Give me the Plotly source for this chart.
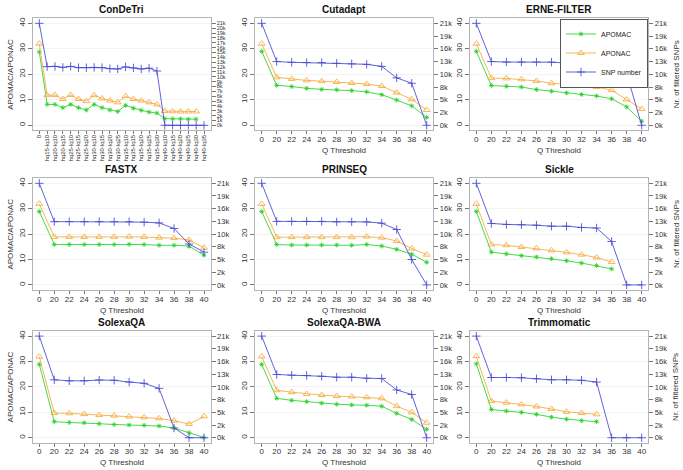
import plotly.graph_objects as go

# categories
q_cats = ["0", "20", "22", "24", "26", "28", "30", "32", "34", "36", "38", "40"]
condetri_cats = ["0", "hq15-lq10", "hq20-lq10", "hq20-lq15", "hq25-lq10", "hq25-lq15",
                 "hq25-lq20", "hq30-lq10", "hq30-lq15", "hq30-lq20", "hq30-lq25",
                 "hq35-lq10", "hq35-lq15", "hq35-lq20", "hq35-lq25", "hq35-lq30",
                 "hq40-lq10", "hq40-lq15", "hq40-lq20", "hq40-lq25", "hq40-lq30", "hq40-lq35"]

# ConDeTri
condetri_apomac = [28.8, 8.2, 8.2, 6.9, 8.2, 6.9, 6.0, 8.2, 6.9, 6.0, 5.4, 7.8, 6.7, 5.9, 5.2, 4.8,
                   2.6, 2.5, 2.5, 2.4, 2.4, None]
condetri_aponac = [32.0, 11.8, 11.9, 10.3, 11.9, 10.3, 9.5, 11.8, 10.5, 9.7, 9.0, 11.4, 10.3, 9.7, 9.0, 8.2,
                   5.6, 5.5, 5.4, 5.4, 5.4, None]
condetri_snp = [21000, 12080, 12130, 11920, 12130, 11870, 11870, 11920, 11870, 11660, 11600, 12020,
                11810, 11600, 11760, 11180, 0, 0, 0, 0, 0, 0]

# Cutadapt
cutadapt_apomac = [29.0, 15.7, 15.2, 14.5, 14.1, 13.9, 13.6, 13.1, 12.0, 9.9, 7.6, 3.1]
cutadapt_aponac = [32.0, 18.8, 18.2, 17.6, 17.3, 17.0, 16.6, 16.2, 15.4, 12.8, 10.2, 6.0]
cutadapt_snp = [21000, 13125, 12970, 12915, 12915, 12760, 12650, 12550, 12130, 9765, 8660, 0]

# ERNE-FILTER
erne_apomac = [29.0, 15.6, 15.3, 15.0, 14.0, 13.4, 12.7, 12.1, 11.5, 10.4, 7.2, 1.6]
erne_aponac = [32.0, 18.5, 18.4, 18.0, 17.4, 16.5, 15.9, 15.5, 15.0, 13.8, 10.1, 6.4]
erne_snp = [21000, 13125, 13020, 13020, 13020, 13000, 12810, 12550, 12530, 11970, 10660, 0]

# FASTX
fastx_apomac = [28.9, 15.9, 15.9, 15.9, 15.9, 15.9, 16.0, 15.9, 15.6, 15.6, 15.3, 11.7]
fastx_aponac = [31.9, 18.9, 18.9, 18.9, 18.9, 18.9, 19.0, 18.9, 18.6, 18.4, 17.7, 14.6]
fastx_snp = [21000, 13070, 13070, 13070, 13070, 13070, 13060, 12970, 12810, 11660, 8450, 6770]

# PRINSEQ
prinseq_apomac = [28.9, 15.9, 15.7, 15.7, 15.7, 15.7, 15.6, 15.9, 15.3, 14.0, 12.1, 8.9]
prinseq_aponac = [31.9, 18.8, 18.8, 18.8, 18.8, 18.8, 18.8, 19.0, 18.6, 17.3, 14.3, 11.9]
prinseq_snp = [21000, 13125, 13125, 13125, 13125, 13020, 13020, 13020, 12760, 11450, 5250, 0]

# Sickle
sickle_apomac = [28.9, 12.9, 12.2, 11.5, 11.0, 10.3, 9.5, 8.6, 7.6, 6.3, None, None]
sickle_aponac = [31.9, 15.9, 15.6, 14.9, 14.4, 13.6, 12.8, 11.9, 10.8, 9.0, None, None]
sickle_snp = [21000, 12700, 12500, 12440, 12340, 12130, 12130, 11870, 11760, 8980, 0, 0]

# SolexaQA
solexa_apomac = [28.9, 6.3, 6.0, 5.9, 5.5, 5.2, 5.0, 4.9, 4.6, 3.8, 2.0, 0.1]
solexa_aponac = [31.9, 9.7, 9.6, 9.3, 8.9, 8.7, 8.3, 8.0, 7.6, 6.7, 5.4, 8.4]
solexa_snp = [21000, 11970, 11760, 11760, 11920, 11870, 11500, 11240, 10190, 2000, 0, 0]

# SolexaQA-BWA
solexabwa_apomac = [28.9, 15.5, 14.7, 14.2, 13.6, 13.2, 12.9, 12.8, 12.4, 9.6, 7.2, 3.3]
solexabwa_aponac = [32.0, 18.7, 17.9, 17.2, 16.8, 16.4, 16.2, 15.9, 15.5, 12.4, 10.0, 5.9]
solexabwa_snp = [21000, 13070, 12920, 12860, 12700, 12500, 12500, 12290, 12230, 9870, 8930, 0]

# Trimmomatic
trimmo_apomac = [29.1, 11.1, 10.5, 10.0, 9.2, 8.1, 7.3, 6.7, 6.3, None, None, None]
trimmo_aponac = [32.1, 14.4, 13.8, 13.1, 12.3, 11.3, 10.2, 9.7, 9.2, None, None, None]
trimmo_snp = [21000, 12440, 12440, 12390, 12180, 11970, 11970, 11870, 11500, 0, 0, 0]

snp_labels = ["0k", "2k", "5k", "8k", "10k", "13k", "16k", "19k", "21k"]
snp_max = 21000

panels = [
    ("ConDeTri", condetri_cats, condetri_apomac, condetri_aponac, condetri_snp),
    ("Cutadapt", q_cats, cutadapt_apomac, cutadapt_aponac, cutadapt_snp),
    ("ERNE-FILTER", q_cats, erne_apomac, erne_aponac, erne_snp),
    ("FASTX", q_cats, fastx_apomac, fastx_aponac, fastx_snp),
    ("PRINSEQ", q_cats, prinseq_apomac, prinseq_aponac, prinseq_snp),
    ("Sickle", q_cats, sickle_apomac, sickle_aponac, sickle_snp),
    ("SolexaQA", q_cats, solexa_apomac, solexa_aponac, solexa_snp),
    ("SolexaQA-BWA", q_cats, solexabwa_apomac, solexabwa_aponac, solexabwa_snp),
    ("Trimmomatic", q_cats, trimmo_apomac, trimmo_aponac, trimmo_snp),
]

W, H = 683, 470
col_px = [(32.7, 210.6), (255.1, 433.3), (469.7, 648.3)]
row_px = [(18.2, 130.4), (178.2, 290.0), (331.0, 442.8)]

GREEN = "rgba(40,210,40,0.85)"
ORANGE = "rgba(245,170,60,0.85)"
BLUE = "rgba(70,70,210,0.85)"
FRAME = "#b4b4b4"
FONT = "Liberation Sans, Arial, sans-serif"

fig = go.Figure()
layout = {}
annotations = []

for i, (title, cats, apomac, aponac, snp) in enumerate(panels):
    r, c = divmod(i, 3)
    n = i + 1
    xa = f"x{n}"
    ya = f"y{2 * i + 1}"
    ya2 = f"y{2 * i + 2}"
    legend = title == "ERNE-FILTER"

    fig.add_trace(go.Scatter(x=cats, y=apomac, name="APOMAC", xaxis=xa, yaxis=ya,
                             mode="lines+markers", showlegend=legend,
                             line=dict(color=GREEN, width=1),
                             marker=dict(symbol="asterisk-open", size=4, color=GREEN,
                                         line=dict(color=GREEN, width=1))))
    fig.add_trace(go.Scatter(x=cats, y=aponac, name="APONAC", xaxis=xa, yaxis=ya,
                             mode="lines+markers", showlegend=legend,
                             line=dict(color=ORANGE, width=1),
                             marker=dict(symbol="triangle-up-open", size=6, color=ORANGE,
                                         line=dict(color=ORANGE, width=1))))
    fig.add_trace(go.Scatter(x=cats, y=snp, name="SNP number", xaxis=xa, yaxis=ya2,
                             mode="lines+markers", showlegend=legend,
                             line=dict(color=BLUE, width=1),
                             marker=dict(symbol="cross-thin-open", size=6, color=BLUE,
                                         line=dict(color=BLUE, width=1))))

    x0, x1 = col_px[c]
    top, bot = row_px[r]
    xdom = [x0 / W, x1 / W]
    ydom = [1 - bot / H, 1 - top / H]
    ncat = len(cats)
    pad = 0.04 * (ncat - 1)

    layout[f"xaxis{n}"] = dict(
        domain=xdom, anchor=ya, type="category", range=[-pad, ncat - 1 + pad],
        showline=True, mirror=True, linecolor=FRAME, linewidth=1,
        ticks="outside", ticklen=3, tickcolor="#777", showgrid=False, zeroline=False,
        ticklabelstandoff=-2,
        tickfont=dict(size=6 if ncat > 12 else 8, color="#333", family=FONT),
        tickangle=-90 if ncat > 12 else 0, fixedrange=True,
    )
    layout[f"yaxis{2 * i + 1}"] = dict(
        domain=ydom, anchor=xa, range=[-2, 42], tickvals=[0, 10, 20, 30, 40],
        showline=True, mirror=True, linecolor=FRAME, linewidth=1,
        ticks="outside", ticklen=4, tickcolor="#777", tickangle=-90,
        showgrid=True, gridcolor="#f3f3f3", zeroline=False,
        tickfont=dict(size=8, color="#333", family=FONT),
    )
    if ncat > 12:
        tv = [k * 1000 for k in range(22)]
        tt = [f"{k}k" for k in range(22)]
        tfs = 5.5
    else:
        tv = [k * snp_max / 8 for k in range(9)]
        tt = snp_labels
        tfs = 7.5
    layout[f"yaxis{2 * i + 2}"] = dict(
        domain=ydom, anchor=xa, overlaying=ya, side="right",
        range=[-2 * snp_max / 40, 42 * snp_max / 40], tickvals=tv, ticktext=tt,
        showline=False, ticks="outside", ticklen=4, tickcolor="#777",
        showgrid=False, zeroline=False,
        tickfont=dict(size=tfs, color="#333", family=FONT),
    )

    xc = (x0 + x1) / 2 / W
    annotations.append(dict(text=f"<b>{title}</b>", x=xc, y=1 - (top - 9) / H,
                            xref="paper", yref="paper", showarrow=False,
                            xanchor="center", yanchor="middle",
                            font=dict(size=10, color="#111", family=FONT)))
    if ncat == 12:
        annotations.append(dict(text="Q Threshold", x=xc, y=1 - (bot + 20) / H,
                                xref="paper", yref="paper", showarrow=False,
                                xanchor="center", yanchor="middle",
                                font=dict(size=8, color="#333", family=FONT)))
    yc = 1 - (top + bot) / 2 / H
    if c == 0:
        annotations.append(dict(text="APOMAC/APONAC", x=10.5 / W, y=yc, textangle=-90,
                                xref="paper", yref="paper", showarrow=False,
                                xanchor="center", yanchor="middle",
                                font=dict(size=8, color="#333", family=FONT)))
    if c == 2:
        annotations.append(dict(text="Nr. of filtered SNPs", x=676 / W, y=yc, textangle=-90,
                                xref="paper", yref="paper", showarrow=False,
                                xanchor="center", yanchor="middle",
                                font=dict(size=8, color="#333", family=FONT)))

fig.update_layout(
    width=W, height=H, margin=dict(l=0, r=0, t=0, b=0),
    paper_bgcolor="white", plot_bgcolor="white",
    annotations=annotations,
    legend=dict(x=648 / W, y=1 - 18.5 / H, xanchor="right", yanchor="top",
                bgcolor="white", bordercolor="#555", borderwidth=1,
                font=dict(size=7, color="#222", family=FONT),
                itemwidth=30, tracegroupgap=0),
    **layout,
)

fig.write_html("out.html", config={"displayModeBar": False},
               post_script="document.body.style.margin='0px';")
